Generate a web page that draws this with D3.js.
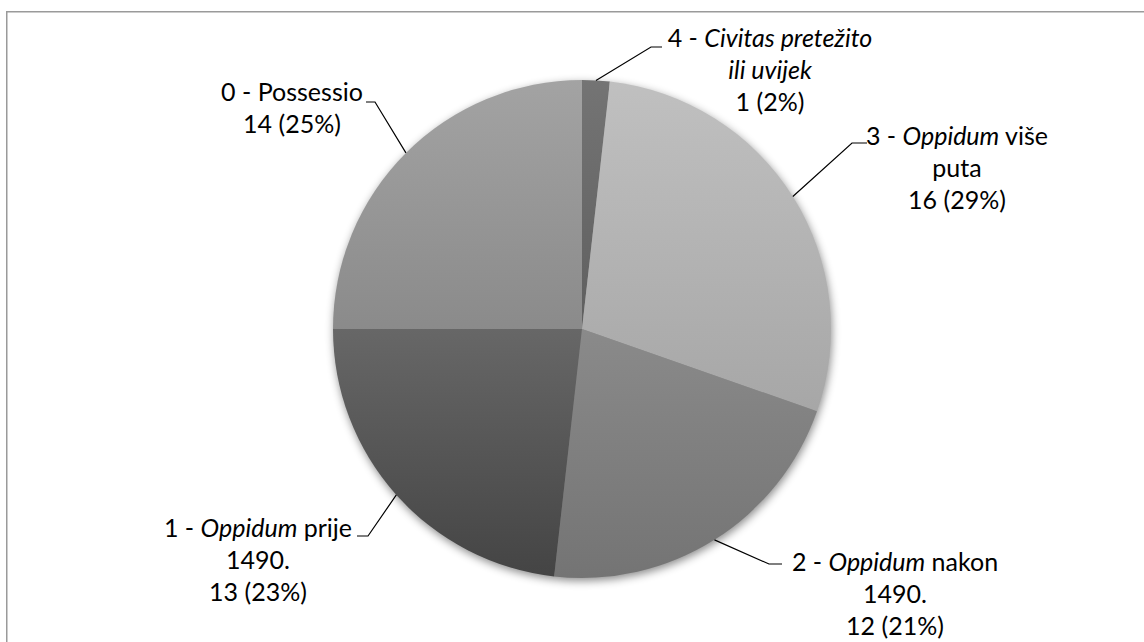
<!DOCTYPE html>
<html>
<head>
<meta charset="utf-8">
<script src="https://cdn.jsdelivr.net/npm/d3@7"></script>
<style>
  html, body { margin: 0; padding: 0; background: #fff; }
  svg { display: block; }
  text { font-family: Lato, "Open Sans", sans-serif; fill: #000; }
</style>
</head>
<body>
<svg id="chart" width="1144" height="642"></svg>
<script>
// ---- data (clockwise from 12 o'clock) ----
const categories = ["4", "3", "2", "1", "0"];
const values = [1, 16, 12, 13, 14];
// label text lines: each line is a list of [text, italic]
const labelLines = [
  [[["4 - ", false], ["Civitas pretežito", true]], [["ili uvijek", true]]],
  [[["3 - ", false], ["Oppidum", true], [" više", false]], [["puta", false]]],
  [[["2 - ", false], ["Oppidum", true], [" nakon", false]], [["1490.", false]]],
  [[["1 - ", false], ["Oppidum", true], [" prije", false]], [["1490.", false]]],
  [[["0 - Possessio", false]]]
];
// ---- styles ----
const topColors    = ["#747474", "#c0c0c0", "#a0a0a0", "#8a8a8a", "#a3a3a3"];
const bottomColors = ["#4a4a4a", "#9a9a9a", "#747474", "#444444", "#727272"];
// label layout: center x, first baseline y, elbow point, leader end point
const labelLayout = [
  { cx: 770, y: 47,  elbow: [651, 47],  end: [662, 47] },
  { cx: 957, y: 145, elbow: [852, 143], end: [867, 143] },
  { cx: 895, y: 571, elbow: [769, 564], end: [782, 564] },
  { cx: 258, y: 537, elbow: [368, 536], end: [357, 536] },
  { cx: 292, y: 101, elbow: [375, 102], end: [366, 102] }
];

const W = 1144, H = 642;
const cx = 582, cy = 329, R = 249;
const fontSize = 25, lineH = 32;

const svg = d3.select("#chart");
const defs = svg.append("defs");

const filt = defs.append("filter").attr("id", "shadow")
  .attr("color-interpolation-filters", "sRGB")
  .attr("x", "-10%").attr("y", "-10%").attr("width", "120%").attr("height", "120%");
filt.append("feDropShadow").attr("dx", 1).attr("dy", 3)
  .attr("stdDeviation", 4).attr("flood-color", "#000").attr("flood-opacity", 0.45);

// gradients in the pie group's local coordinates (centered at 0,0)
values.forEach((v, i) => {
  const g = defs.append("linearGradient").attr("id", "grad" + i)
    .attr("gradientUnits", "userSpaceOnUse")
    .attr("x1", 0).attr("y1", -R).attr("x2", 0).attr("y2", R);
  g.append("stop").attr("offset", "0%").attr("stop-color", topColors[i]);
  g.append("stop").attr("offset", "100%").attr("stop-color", bottomColors[i]);
});

// border
svg.append("rect").attr("x", 6.75).attr("y", 11.75)
  .attr("width", W + 20).attr("height", H + 20)
  .attr("fill", "none").attr("stroke", "#9a9a9a").attr("stroke-width", 1.5);

const total = d3.sum(values);
const pie = d3.pie().sort(null).value(d => d).startAngle(0).endAngle(2 * Math.PI);
const arcs = pie(values);
const arc = d3.arc().innerRadius(0).outerRadius(R);

const gPie = svg.append("g").attr("transform", `translate(${cx},${cy})`)
  .attr("filter", "url(#shadow)");
gPie.selectAll("path").data(arcs).join("path")
  .attr("d", arc)
  .attr("fill", (d, i) => `url(#grad${i})`);

// leaders
arcs.forEach((d, i) => {
  const mid = (d.startAngle + d.endAngle) / 2;
  const p0 = [cx + R * Math.sin(mid), cy - R * Math.cos(mid)];
  const L = labelLayout[i];
  svg.append("polyline")
    .attr("points", [p0, L.elbow, L.end].map(p => p.join(",")).join(" "))
    .attr("fill", "none").attr("stroke", "#000").attr("stroke-width", 1.2);
});

// labels
arcs.forEach((d, i) => {
  const L = labelLayout[i];
  const pct = Math.round(values[i] / total * 100);
  const lines = labelLines[i].concat([[[`${values[i]} (${pct}%)`, false]]]);
  const t = svg.append("text").attr("text-anchor", "middle")
    .attr("font-size", fontSize);
  lines.forEach((line, li) => {
    line.forEach((seg, si) => {
      const ts = t.append("tspan").text(seg[0])
        .attr("font-style", seg[1] ? "italic" : "normal");
      if (si === 0) ts.attr("x", L.cx).attr("y", L.y + li * lineH);
    });
  });
});
</script>
</body>
</html>
